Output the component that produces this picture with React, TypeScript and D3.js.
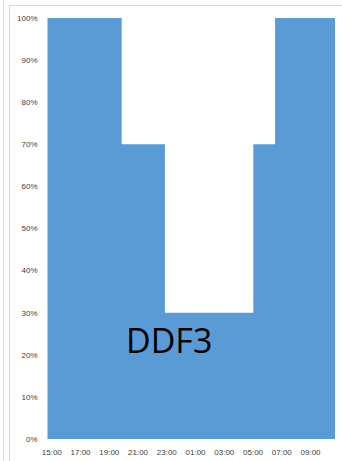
import React from "react";
import * as d3 from "d3";

// Step segments (start hour offset from 15:00, value %)
const segStarts: number[] = [0, 5.16, 8.17, 14.32, 15.83];
const segValues: number[] = [100, 70, 30, 70, 100];
const endHour = 20;
const xTickLabels: string[] = ["15:00", "17:00", "19:00", "21:00", "23:00", "01:00", "03:00", "05:00", "07:00", "09:00"];
const yTicks: number[] = [0, 10, 20, 30, 40, 50, 60, 70, 80, 90, 100];
const annotation = "DDF3";

export default function App() {
  const W = 342, H = 461;
  const x = d3.scaleLinear().domain([0, endHour]).range([47.5, 335]);
  const y = d3.scaleLinear().domain([0, 100]).range([439, 18]);

  const pts: [number, number][] = [];
  segStarts.forEach((s, i) => {
    const e = i < segStarts.length - 1 ? segStarts[i + 1] : endHour;
    pts.push([s, segValues[i]]);
    pts.push([e, segValues[i]]);
  });
  const area = d3
    .area<[number, number]>()
    .x((d) => x(d[0]))
    .y0(y(0))
    .y1((d) => y(d[1]));

  return (
    <div style={{ position: "fixed", left: 0, top: 0 }}>
      <svg width={W} height={H} style={{ display: "block", background: "#fff" }}>
        <line x1={3.5} x2={3.5} y1={0} y2={H} stroke="#d9d9d9" />
        <line x1={9.5} x2={9.5} y1={5.5} y2={H} stroke="#d9d9d9" />
        <line x1={9.5} x2={W} y1={5.5} y2={5.5} stroke="#d9d9d9" />
        <path d={area(pts) || ""} fill="#5b9bd5" />
        {yTicks.map((t) => (
          <text
            key={t}
            x={37.5}
            y={y(t)}
            dy="0.35em"
            textAnchor="end"
            fontFamily="Liberation Sans, Arial, sans-serif"
            fontSize={8}
            fill="#404040"
          >
            {t + "%"}
          </text>
        ))}
        {xTickLabels.map((l, i) => (
          <text
            key={l}
            x={x(i * 2 + 0.3)}
            y={455}
            textAnchor="middle"
            fontFamily="Liberation Sans, Arial, sans-serif"
            fontSize={8}
            fill="#404040"
          >
            {l}
          </text>
        ))}
        <text x={126} y={353} fontFamily="Open Sans, Liberation Sans, sans-serif" fontSize={34} fill="#000">
          {annotation}
        </text>
      </svg>
    </div>
  );
}
